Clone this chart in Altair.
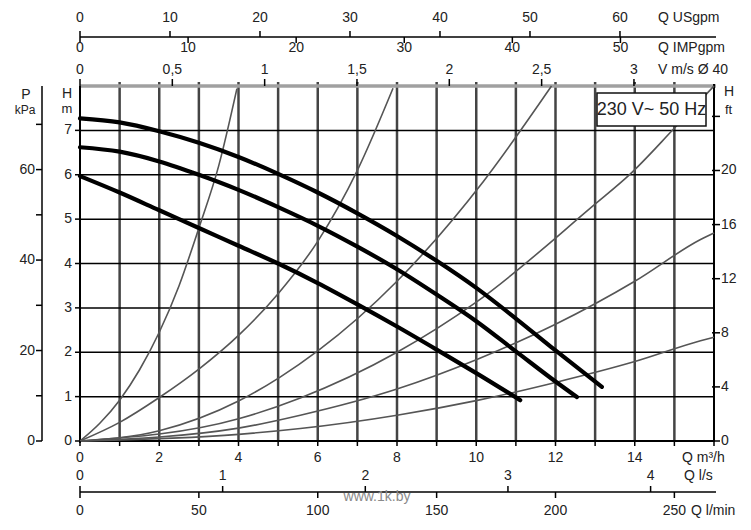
import altair as alt
import pandas as pd

FONT = "Liberation Sans, Arial, sans-serif"
TXT = "#222222"

# ---------------- data ----------------
# pump curves: Q (m3/h), H (m)
p1_q = [0, 1, 2, 3, 4, 5, 6, 7, 8, 9, 10, 11, 12, 13.17]
p1_h = [7.27, 7.18, 6.98, 6.72, 6.4, 6.02, 5.6, 5.13, 4.62, 4.06, 3.45, 2.76, 2.04, 1.22]
p2_q = [0, 1, 2, 3, 4, 5, 6, 7, 8, 9, 10, 11, 12, 12.54]
p2_h = [6.62, 6.52, 6.3, 6.0, 5.66, 5.27, 4.85, 4.38, 3.87, 3.3, 2.7, 2.02, 1.34, 0.99]
p3_q = [0, 1, 2, 3, 4, 5, 6, 7, 8, 9, 10, 11.11]
p3_h = [5.97, 5.6, 5.2, 4.8, 4.4, 4.0, 3.56, 3.08, 2.58, 2.06, 1.53, 0.92]

# system (pipe) curves: Q (m3/h), H (m)
sA_q = [0, 0.5, 1, 1.5, 2, 2.5, 3, 3.5, 3.96]
sA_h = [0, 0.4, 0.92, 1.6, 2.45, 3.5, 4.8, 6.2, 7.94]
sB_q = [0, 1, 2, 3, 4, 5, 6, 7, 7.9]
sB_h = [0, 0.42, 0.98, 1.62, 2.38, 3.32, 4.5, 6.1, 7.95]
sC_q = [0, 2, 4, 5.05, 6, 8, 10.18, 11.9]
sC_h = [0, 0.23, 0.9, 1.44, 2.03, 3.6, 5.85, 8.0]
sD_q = [0, 4, 5.56, 8, 10, 12.96, 13.89, 14.98, 16]
sD_h = [0, 0.5, 0.97, 2.0, 3.13, 5.31, 6.02, 7.03, 8.0]
sE_q = [0, 4, 5.56, 8, 10, 12, 14, 15.66, 16]
sE_h = [0, 0.29, 0.58, 1.17, 1.83, 2.63, 3.6, 4.54, 4.69]
sF_q = [0, 4, 5.56, 8, 10, 12, 14, 15.66, 16]
sF_h = [0, 0.15, 0.28, 0.58, 0.91, 1.32, 1.79, 2.26, 2.34]

# axes
q_grid = list(range(0, 17))
q_labels = [0, 2, 4, 6, 8, 10, 12, 14]
h_grid = [1, 2, 3, 4, 5, 6, 7]
h_labels = [0, 1, 2, 3, 4, 5, 6, 7]
kpa_ticks = [0, 10, 20, 30, 40, 50, 60, 70]
kpa_labels = [0, 20, 40, 60]
ft_ticks = [0, 4, 8, 12, 16, 20, 24]
ft_labels = [0, 4, 8, 12, 16, 20]
usgpm_vals = [0, 10, 20, 30, 40, 50, 60]
impgpm_vals = [0, 10, 20, 30, 40, 50]
vel_vals = [0, 0.5, 1, 1.5, 2, 2.5, 3]
vel_text = ["0", "0,5", "1", "1,5", "2", "2,5", "3"]
ls_vals = [0, 1, 2, 3, 4]
lmin_vals = [0, 50, 100, 150, 200, 250]

# unit conversions to m3/h and m
US_PER_M3H = 4.403
IMP_PER_M3H = 3.666
M3H_PER_MS = 4.66  # velocity in DN40 pipe
M3H_PER_LS = 3.6
M3H_PER_LMIN = 0.06
KPA_PER_M = 9.81
M_PER_FT = 0.3048

W, H = 634, 355
LS = 14  # label font size
xs = alt.Scale(domain=[0, 16], nice=False, zero=False)
ys = alt.Scale(domain=[0, 8], nice=False, zero=False)


def X(f="q"):
    return alt.X(f"{f}:Q", scale=xs, axis=None)


def Y(f="h"):
    return alt.Y(f"{f}:Q", scale=ys, axis=None)


one = pd.DataFrame({"a": [0]})

pump = pd.concat([
    pd.DataFrame({"q": p1_q, "h": p1_h, "c": "p1"}),
    pd.DataFrame({"q": p2_q, "h": p2_h, "c": "p2"}),
    pd.DataFrame({"q": p3_q, "h": p3_h, "c": "p3"}),
])
system = pd.concat([
    pd.DataFrame({"q": sA_q, "h": sA_h, "c": "A"}),
    pd.DataFrame({"q": sB_q, "h": sB_h, "c": "B"}),
    pd.DataFrame({"q": sC_q, "h": sC_h, "c": "C"}),
    pd.DataFrame({"q": sD_q, "h": sD_h, "c": "D"}),
    pd.DataFrame({"q": sE_q, "h": sE_h, "c": "E"}),
    pd.DataFrame({"q": sF_q, "h": sF_h, "c": "F"}),
])

layers = []

# vertical grid
vg = pd.DataFrame({"q": [v for v in q_grid if 0 < v < 16]})
layers.append(alt.Chart(vg).mark_rule(color="#444444", strokeWidth=2.5).encode(
    x=X(), y=alt.value(-4), y2=alt.value(H)))
# horizontal grid
hg = pd.DataFrame({"h": h_grid})
layers.append(alt.Chart(hg).mark_rule(color="#000000", strokeWidth=1.5).encode(
    y=Y(), x=alt.value(0), x2=alt.value(W)))
# frame
layers.append(alt.Chart(one).mark_rule(color="#a0a0a0", strokeWidth=3.5).encode(
    x=alt.value(0), x2=alt.value(W + 2), y=alt.value(0)))
layers.append(alt.Chart(one).mark_rule(color="#000000", strokeWidth=2).encode(
    x=alt.value(0), x2=alt.value(W), y=alt.value(H)))
layers.append(alt.Chart(one).mark_rule(color="#000000", strokeWidth=2).encode(
    x=alt.value(0), y=alt.value(0), y2=alt.value(H + 2)))
layers.append(alt.Chart(one).mark_rule(color="#000000", strokeWidth=2).encode(
    x=alt.value(W), y=alt.value(-2), y2=alt.value(H + 1)))

# system curves
layers.append(alt.Chart(system).mark_line(color="#555555", strokeWidth=1.6, interpolate="monotone").encode(
    x=X(), y=Y(), detail="c:N", order="q:Q"))
# pump curves
layers.append(alt.Chart(pump).mark_line(color="#000000", strokeWidth=4.2, interpolate="monotone",
                                        strokeCap="round").encode(
    x=X(), y=Y(), detail="c:N", order="q:Q"))

# box label
layers.append(alt.Chart(one).mark_rect(fill="white", stroke="#111111", strokeWidth=1.5).encode(
    x=alt.value(517), x2=alt.value(626), y=alt.value(7), y2=alt.value(40)))
layers.append(alt.Chart(one).mark_text(font=FONT, fontSize=18, color=TXT, align="center",
                                        baseline="middle").encode(
    x=alt.value(571.5), y=alt.value(24), text=alt.value("230 V~ 50 Hz")))


def texts(df, x, y, align="center", size=LS):
    return alt.Chart(df).mark_text(font=FONT, fontSize=size, color=TXT, align=align,
                                   baseline="middle").encode(x=x, y=y, text="t:N")


def title(txt, x, y, align="left", size=LS):
    return alt.Chart(one).mark_text(font=FONT, fontSize=size, color=TXT, align=align,
                                    baseline="middle").encode(
        x=alt.value(x), y=alt.value(y), text=alt.value(txt))


# bottom m3/h axis
qt = pd.DataFrame({"q": q_grid})
layers.append(alt.Chart(qt).mark_rule(color="#000000", strokeWidth=1.5).encode(
    x=X(), y=alt.value(H), y2=alt.value(H + 5)))
ql = pd.DataFrame({"q": q_labels, "t": [str(v) for v in q_labels]})
layers.append(texts(ql, X(), alt.value(H + 17)))
layers.append(title("Q m³/h", 602, H + 17))

# bottom l/s and l/min axis
BL = 406
layers.append(alt.Chart(one).mark_rule(color="#000000", strokeWidth=1.5).encode(
    x=alt.value(0), x2=alt.value(W + 2), y=alt.value(BL)))
ls = pd.DataFrame({"q": [v * M3H_PER_LS for v in ls_vals], "t": [str(v) for v in ls_vals]})
layers.append(alt.Chart(ls).mark_rule(color="#000000", strokeWidth=1.5).encode(
    x=X(), y=alt.value(BL - 6), y2=alt.value(BL)))
layers.append(texts(ls, X(), alt.value(BL - 16)))
layers.append(title("Q l/s", 604, BL - 16))
lm = pd.DataFrame({"q": [v * M3H_PER_LMIN for v in lmin_vals], "t": [str(v) for v in lmin_vals]})
layers.append(alt.Chart(lm).mark_rule(color="#000000", strokeWidth=1.5).encode(
    x=X(), y=alt.value(BL), y2=alt.value(BL + 6)))
layers.append(texts(lm, X(), alt.value(BL + 19)))
layers.append(title("Q l/min", 611, BL + 19))
layers.append(alt.Chart(one).mark_text(font=FONT, fontSize=14, color="#8a8a8a", align="center",
                                        baseline="middle").encode(
    x=alt.value(297), y=alt.value(BL + 5), text=alt.value("www.1k.by")))

# top USgpm / IMPgpm axis
TL = -49
layers.append(alt.Chart(one).mark_rule(color="#000000", strokeWidth=1.5).encode(
    x=alt.value(0), x2=alt.value(W + 2), y=alt.value(TL)))
us = pd.DataFrame({"q": [v / US_PER_M3H for v in usgpm_vals], "t": [str(v) for v in usgpm_vals]})
layers.append(alt.Chart(us).mark_rule(color="#000000", strokeWidth=1.5).encode(
    x=X(), y=alt.value(TL - 6), y2=alt.value(TL)))
layers.append(texts(us, X(), alt.value(-68)))
layers.append(title("Q USgpm", 578, -68))
imp = pd.DataFrame({"q": [v / IMP_PER_M3H for v in impgpm_vals], "t": [str(v) for v in impgpm_vals]})
layers.append(alt.Chart(imp).mark_rule(color="#000000", strokeWidth=1.5).encode(
    x=X(), y=alt.value(TL), y2=alt.value(TL + 6)))
layers.append(texts(imp, X(), alt.value(-38)))
layers.append(title("Q IMPgpm", 578, -38))

# velocity axis (on top frame)
vel = pd.DataFrame({"q": [v * M3H_PER_MS for v in vel_vals], "t": vel_text})
layers.append(alt.Chart(vel).mark_rule(color="#000000", strokeWidth=1.5).encode(
    x=X(), y=alt.value(-7), y2=alt.value(0)))
layers.append(texts(vel, X(), alt.value(-16)))
layers.append(title("V m/s Ø 40", 578, -16))

# left H axis
hl = pd.DataFrame({"h": h_labels, "t": [str(v) for v in h_labels]})
layers.append(alt.Chart(hl).mark_rule(color="#000000", strokeWidth=1.5).encode(
    y=Y(), x=alt.value(-5), x2=alt.value(0)))
layers.append(texts(hl, alt.value(-8), Y(), align="right"))
layers.append(title("H", -13, 8, align="center", size=14))
layers.append(title("m", -13, 23, align="center", size=13))

# left kPa axis
PX = -38
layers.append(alt.Chart(one).mark_rule(color="#000000", strokeWidth=1.5).encode(
    x=alt.value(PX), y=alt.value(0), y2=alt.value(H)))
kt = pd.DataFrame({"h": [v / KPA_PER_M for v in kpa_ticks]})
layers.append(alt.Chart(kt).mark_rule(color="#000000", strokeWidth=1.5).encode(
    y=Y(), x=alt.value(PX - 6), x2=alt.value(PX)))
kl = pd.DataFrame({"h": [v / KPA_PER_M for v in kpa_labels], "t": [str(v) for v in kpa_labels]})
layers.append(texts(kl, alt.value(PX - 7), Y(), align="right"))
layers.append(title("P", -54, 9, align="center", size=14))
layers.append(title("kPa", -55, 24, align="center", size=12))

# right ft axis
ftt = pd.DataFrame({"h": [v * M_PER_FT for v in ft_ticks]})
layers.append(alt.Chart(ftt).mark_rule(color="#000000", strokeWidth=1.5).encode(
    y=Y(), x=alt.value(W - 2), x2=alt.value(W + 6)))
ftl = pd.DataFrame({"h": [v * M_PER_FT for v in ft_labels], "t": [str(v) for v in ft_labels]})
layers.append(texts(ftl, alt.value(W + 7), Y(), align="left"))
layers.append(title("H", W + 10, 6, align="left", size=14))
layers.append(title("ft", W + 11, 24, align="left", size=13))

chart = alt.layer(*layers).properties(
    width=W, height=H,
    padding={"left": 80, "top": 86, "right": 37, "bottom": 89},
    autosize=alt.AutoSizeParams(type="none"),
    background="white",
).configure_view(stroke=None)

chart.save("out.html", embed_options={"renderer": "svg", "actions": False})
